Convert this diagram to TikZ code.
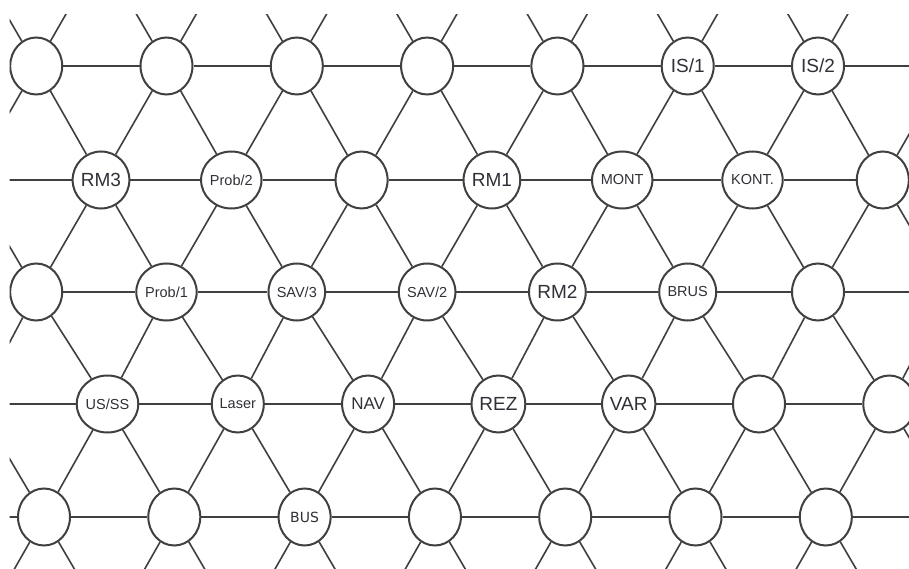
\documentclass[tikz,border=0pt]{standalone}
\usepackage{fontspec}
\usetikzlibrary{shapes.geometric}
\newfontfamily\labfont{Liberation Sans}
\newfontfamily\busfont{DejaVu Sans}
\definecolor{ink}{HTML}{404040}
\definecolor{txt}{HTML}{303038}
\newcommand\biglab{\labfont\fontsize{19}{19}\selectfont}
\newcommand\midlab{\labfont\fontsize{17}{17}\selectfont}
\newcommand\smlab{\labfont\fontsize{14.5}{14.5}\selectfont}
\newcommand\buslab{\busfont\fontsize{14}{14}\selectfont}
\newcommand\setlab[3]{\expandafter\def\csname lab@#1@#2\endcsname{#3}}
\setlab{1}{5}{\biglab IS/1}
\setlab{1}{6}{\biglab IS/2}
\setlab{2}{0}{\biglab RM3}
\setlab{2}{1}{\smlab Prob/2}
\setlab{2}{3}{\biglab RM1}
\setlab{2}{4}{\smlab MONT}
\setlab{2}{5}{\smlab KONT.}
\setlab{3}{1}{\smlab Prob/1}
\setlab{3}{2}{\smlab SAV/3}
\setlab{3}{3}{\smlab SAV/2}
\setlab{3}{4}{\biglab RM2}
\setlab{3}{5}{\smlab BRUS}
\setlab{4}{0}{\smlab US/SS}
\setlab{4}{1}{\smlab Laser}
\setlab{4}{2}{\midlab NAV}
\setlab{4}{3}{\biglab REZ}
\setlab{4}{4}{\biglab VAR}
\setlab{5}{2}{\buslab BUS}
\begin{document}
\begin{tikzpicture}[x=1pt,y=-1pt,
  cell/.style={ellipse,draw=ink,line width=2pt,fill=white,text=txt,
    minimum width=52pt,minimum height=57pt,inner sep=0pt},
  link/.style={draw=ink,line width=1.6pt}]
\fill[white] (0,0) rectangle (909,569);
\useasboundingbox (0,0) rectangle (909,569);
\clip (9.5,15) rectangle (909,569);
\foreach \rr/\xo/\yy in {0/101/-47,1/36.2/66,2/101/180,3/36.2/292,4/107.5/404,5/44/517,6/110/630}{
  \foreach \cc in {-1,...,8}{
    \node[cell] (n-\rr-\cc) at ({\xo+130.3*\cc},\yy)
      {\ifcsname lab@\rr @\cc\endcsname\csname lab@\rr @\cc\endcsname\fi};
  }
}
% horizontal links
\foreach \rr in {0,...,6}{
  \foreach \cc in {-1,...,7}{
    \pgfmathtruncatemacro\nc{\cc+1}
    \draw[link] (n-\rr-\cc) -- (n-\rr-\nc);
  }
}
% diagonal links from even rows
\foreach \rr in {0,2,4}{
  \pgfmathtruncatemacro\nr{\rr+1}
  \foreach \cc in {-1,...,7}{
    \pgfmathtruncatemacro\nc{\cc+1}
    \draw[link] (n-\rr-\cc) -- (n-\nr-\cc);
    \draw[link] (n-\rr-\cc) -- (n-\nr-\nc);
  }
}
% diagonal links from odd rows
\foreach \rr in {1,3,5}{
  \pgfmathtruncatemacro\nr{\rr+1}
  \foreach \cc in {0,...,8}{
    \pgfmathtruncatemacro\pc{\cc-1}
    \draw[link] (n-\rr-\cc) -- (n-\nr-\pc);
    \draw[link] (n-\rr-\cc) -- (n-\nr-\cc);
  }
}
\end{tikzpicture}
\end{document}
